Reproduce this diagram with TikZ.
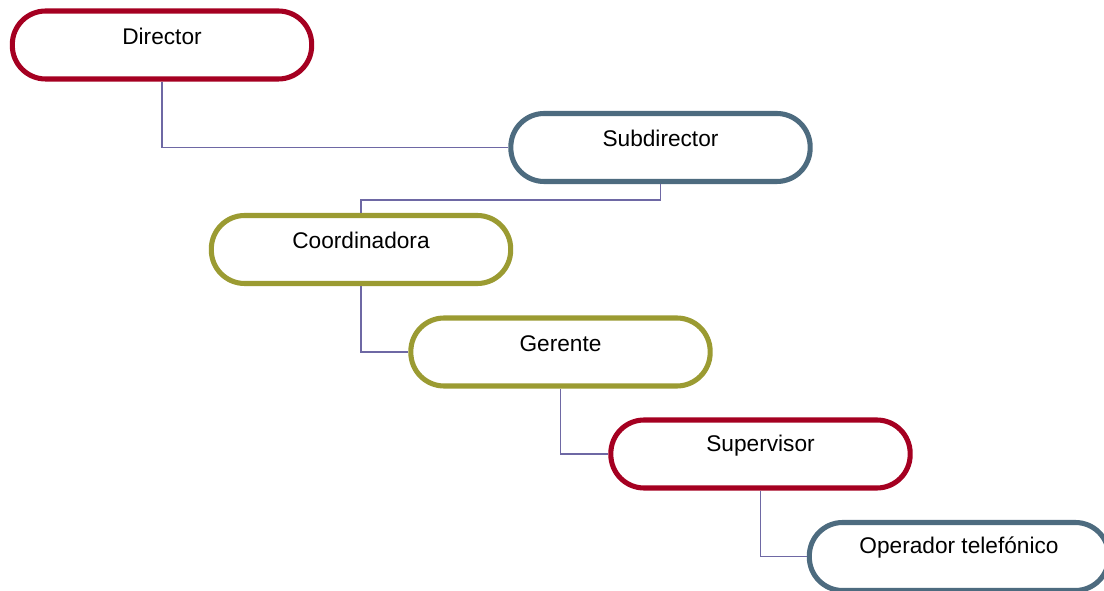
\documentclass[tikz,border=0pt]{standalone}
\usepackage{fontspec}
\setmainfont{Liberation Sans}
\usepackage{xcolor}
\usetikzlibrary{arrows}

\definecolor{redbox}{HTML}{A50021}
\definecolor{bluebox}{HTML}{4D6B7F}
\definecolor{olivebox}{HTML}{9B9B32}
\definecolor{linkline}{HTML}{6E68A4}

\begin{document}
\begin{tikzpicture}[x=0.75pt,y=-0.75pt,
    role/.style={rectangle,
          draw,
          fill = white,
          line width = 3.8pt,
          rounded corners = 25pt,
          minimum width = 224.5pt,
          minimum height = 51pt},
    rolename/.style={font=\fontsize{17}{20}\selectfont},
    link/.style={draw=linkline, line width=0.9pt}]

    \useasboundingbox (0,0) rectangle (1104,591);
    \clip (0,0) rectangle (1104,591);

    \node[role, draw = redbox] (director) at (162,45) {};
    \node[rolename] at ([yshift=6.5pt]director.center) {Director};

    \node[role, draw = bluebox] (subdirector) at (660.5,147.5) {};
    \node[rolename] at ([yshift=6.5pt]subdirector.center) {Subdirector};

    \node[role, draw = olivebox] (coordinadora) at (361,249.5) {};
    \node[rolename] at ([yshift=6.5pt]coordinadora.center) {Coordinadora};

    \node[role, draw = olivebox] (gerente) at (560.5,352) {};
    \node[rolename] at ([yshift=6.5pt]gerente.center) {Gerente};

    \node[role, draw = redbox] (supervisor) at (760.5,454) {};
    \node[rolename] at ([yshift=6.5pt]supervisor.center) {Supervisor};

    \node[role, draw = bluebox] (operador) at (959,556.5) {};
    \node[rolename] at ([yshift=6.5pt]operador.center) {Operador telefónico};

    % links
    \draw[link] (director.south) |- (subdirector.west);
    \draw[link] (subdirector.south) -- ++(0,16) -| (coordinadora.north);
    \draw[link] (coordinadora.south) |- (gerente.west);
    \draw[link] (gerente.south) |- (supervisor.west);
    \draw[link] (supervisor.south) |- (operador.west);

\end{tikzpicture}
\end{document}
